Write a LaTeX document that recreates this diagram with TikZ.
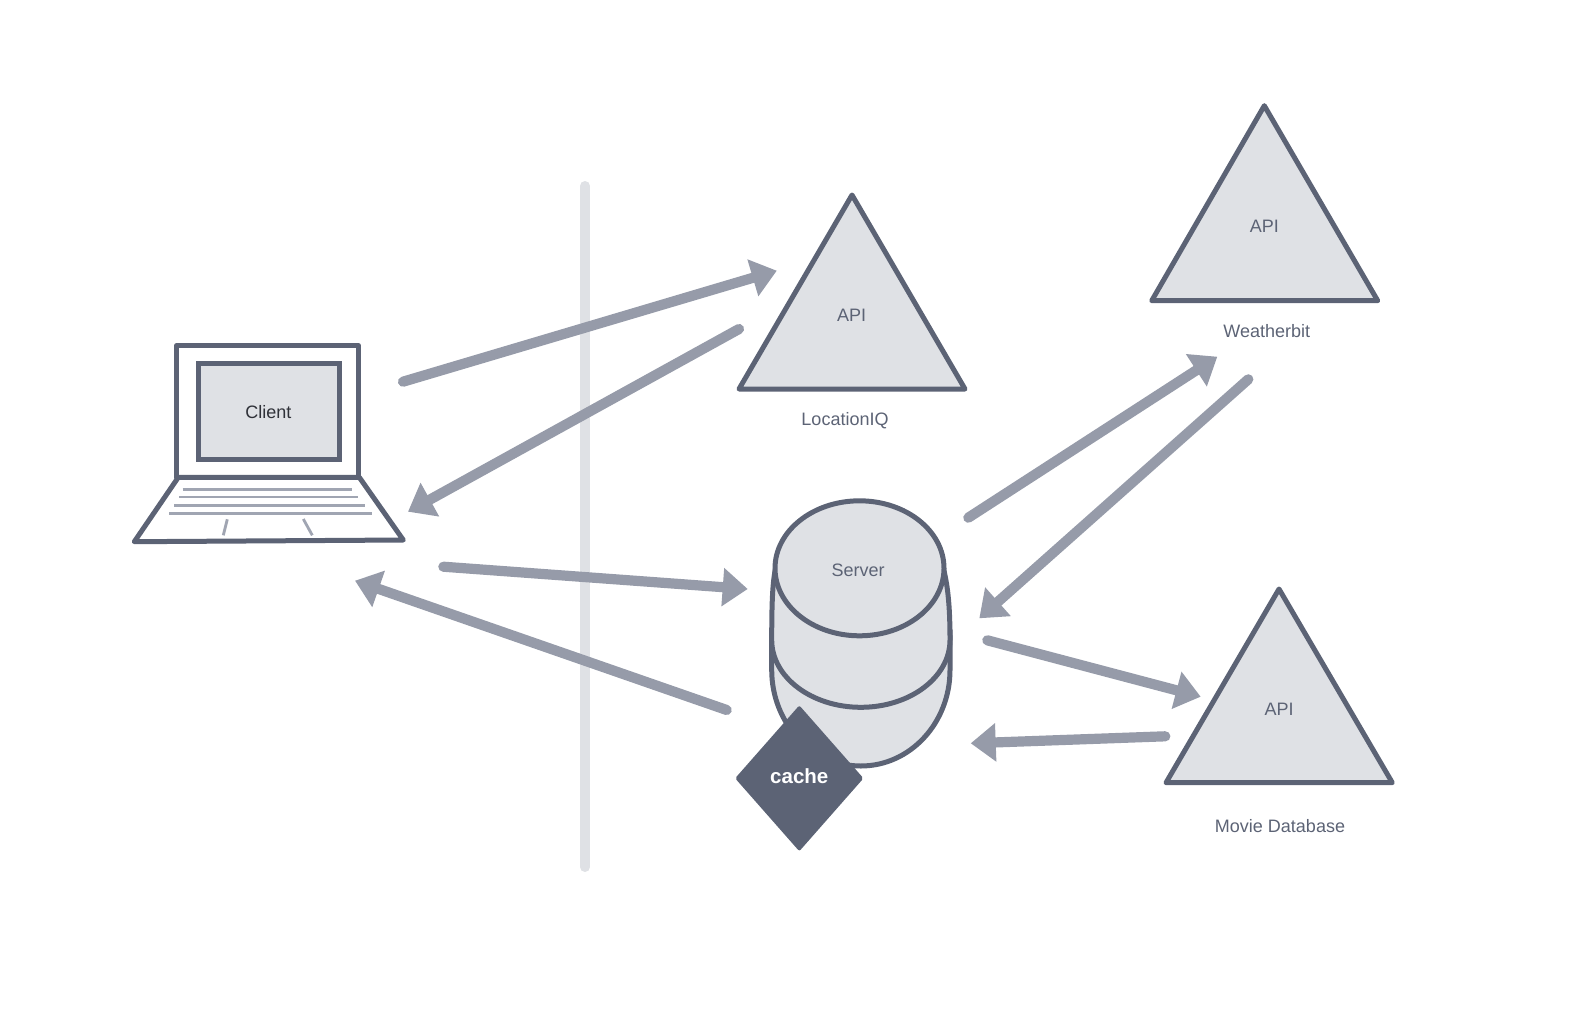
\documentclass[tikz,border=0pt]{standalone}
\usepackage{fontspec}
\setmainfont{Liberation Sans}
\usetikzlibrary{arrows.meta,shapes.geometric}

\definecolor{slatedark}{HTML}{5C6375}
\definecolor{slatemid}{HTML}{969BA9}
\definecolor{slatelight}{HTML}{DFE1E5}
\definecolor{inkdark}{HTML}{2F3138}

\tikzset{
    shapeline/.style={draw=slatedark,line width=5pt,line join=round,fill=slatelight},
    flowarrow/.style={draw=slatemid,line width=10.2pt,line cap=round,
        -{Triangle[length=25pt,width=37pt,fill=slatemid]}},
    keyline/.style={draw=slatemid!90,line width=2.8pt},
    caption/.style={text=slatedark,font=\fontsize{18}{20}\selectfont,inner sep=0pt},
}

\begin{document}
\begin{tikzpicture}[x=1pt,y=-1pt]
    \useasboundingbox (0,0) rectangle (1578,1014);

    % divider
    \coordinate (divtop) at (585,186);
    \coordinate (divbot) at (585,867);
    \draw [slatelight,line width=10pt,line cap=round] (divtop) -- (divbot);

    % laptop
    \draw [shapeline,fill=white] (176.7,345.7) rectangle (358.3,477.3);
    \node (screen) [draw=slatedark,line width=5pt,fill=slatelight,inner sep=0pt,
        minimum width=141pt,minimum height=96.3pt] at (268.5,411.8) {};
    \node (client) [caption,text=inkdark] at (268.3,411.7) {Client};
    \draw [shapeline,fill=white] (178.3,477.3) -- (134.3,541.7) -- (403.3,540) -- (359.3,477.3) -- cycle;
    \draw [keyline] (182.7,489.3) -- (352.3,489.3);
    \draw [keyline] (179.3,497) -- (358.3,497);
    \draw [keyline] (174,505.7) -- (364.7,505.7);
    \draw [keyline] (169,513.7) -- (372.3,513.7);
    \draw [keyline] (227.3,519.3) -- (223.3,535.3);
    \draw [keyline] (303.3,519) -- (312.3,535.3);

    % locationiq
    \draw [shapeline] (852,195) -- (739,389) -- (965,389) -- cycle;
    \node (apiloc) [caption] at (851.5,315) {API};
    \node (locname) [caption] at (845,421) {LocationIQ};

    % weatherbit
    \draw [shapeline] (1264.3,105.7) -- (1151.7,300.7) -- (1377.7,300.7) -- cycle;
    \node (apiweather) [caption] at (1264.3,226.7) {API};
    \node (weathername) [caption] at (1266.7,331) {Weatherbit};

    % movie database
    \draw [shapeline] (1279,589) -- (1166,782.7) -- (1392.3,782.7) -- cycle;
    \node (apimovie) [caption] at (1279,709) {API};
    \node (moviename) [caption] at (1280,825.7) {Movie Database};

    % server
    \draw [shapeline] (771.7,630) -- (771.7,670) arc [start angle=180,end angle=360,x radius=89.15pt,y radius=96pt] -- (950,630) -- cycle;
    \draw [shapeline] (776,566) .. controls (773,580) and (771.7,595) .. (771.7,640) arc [start angle=180,end angle=360,x radius=89.15pt,y radius=67.3pt] .. controls (950,595) and (946,580) .. (943,566) -- cycle;
    \node (server) [ellipse,draw=slatedark,line width=5pt,fill=slatelight,inner sep=0pt,
        minimum width=169pt,minimum height=135pt] at (859.5,568.3) {};
    \node (servername) [caption] at (858,570.7) {Server};
    \node (cache) [diamond,fill=slatedark,rounded corners=2pt,inner sep=0pt,
        minimum width=128.5pt,minimum height=146pt] at (799.3,778.3) {};
    \node (cachename) [text=white,font=\fontsize{20.5}{22}\selectfont\bfseries,inner sep=0pt] at (799.3,776) {cache};

    % arrow ends
    \coordinate (clientout) at (403,381.7);
    \coordinate (locin) at (776.8,270.7);
    \coordinate (locout) at (739,329);
    \coordinate (clientin) at (408,511.7);
    \coordinate (clientreq) at (443.3,566.7);
    \coordinate (serverin) at (747.7,589);
    \coordinate (serverout) at (726.7,710);
    \coordinate (clientres) at (355,580.7);
    \coordinate (weatherreq) at (968.3,517.7);
    \coordinate (weatherin) at (1217.3,356.7);
    \coordinate (weatherout) at (1248.3,379.3);
    \coordinate (weatherres) at (979.3,618.3);
    \coordinate (moviereq) at (987.3,640.3);
    \coordinate (moviein) at (1200.7,696.7);
    \coordinate (movieout) at (1165.3,736.3);
    \coordinate (movieres) at (970.7,743.3);

    \draw [flowarrow] (clientout) -- (locin);
    \draw [flowarrow] (locout) -- (clientin);
    \draw [flowarrow] (clientreq) -- (serverin);
    \draw [flowarrow] (serverout) -- (clientres);
    \draw [flowarrow] (weatherreq) -- (weatherin);
    \draw [flowarrow] (weatherout) -- (weatherres);
    \draw [flowarrow] (moviereq) -- (moviein);
    \draw [flowarrow] (movieout) -- (movieres);
\end{tikzpicture}
\end{document}
